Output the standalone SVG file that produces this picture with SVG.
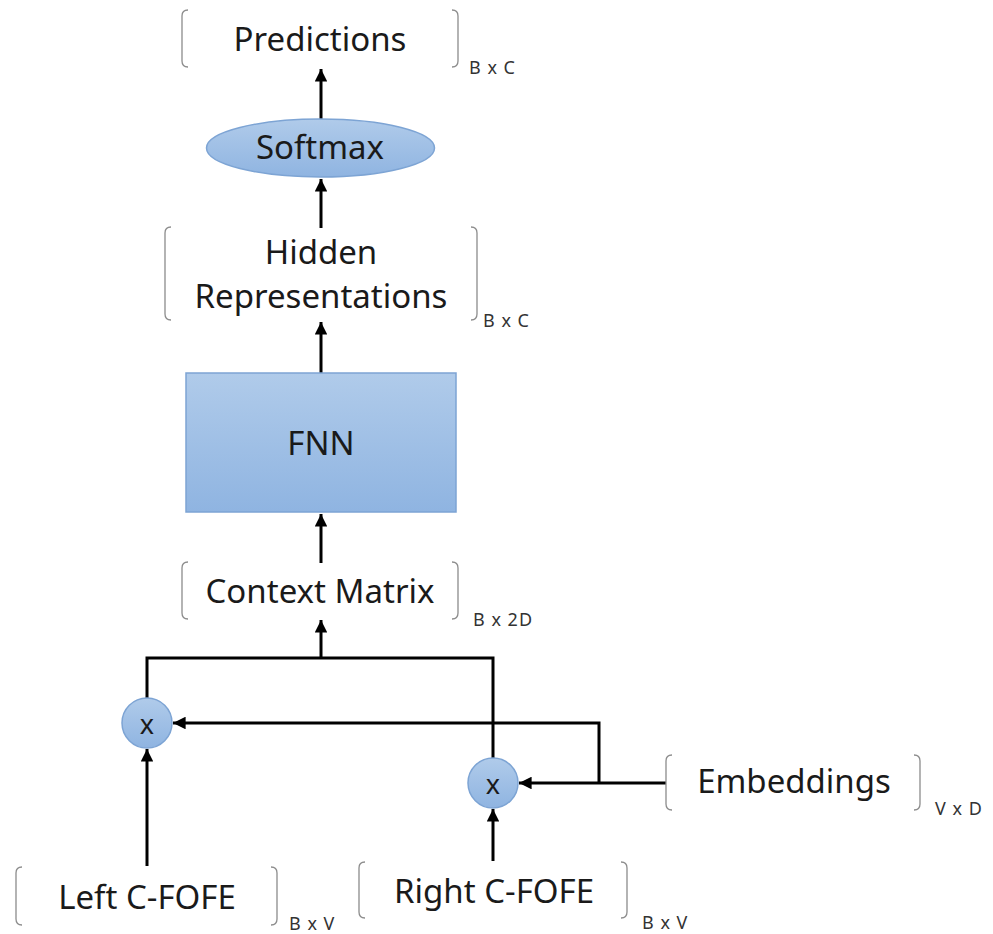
<svg xmlns="http://www.w3.org/2000/svg" width="993" height="934" viewBox="0 0 993 934">
  <style>
    .bg { fill: #ffffff; }
    .brk { fill: none; stroke: #8c8c8c; stroke-width: 1.3; }
    .lbl { font-family: "Noto Sans", "Open Sans", sans-serif; font-size: 33px; fill: #1a1a1a; text-anchor: middle; }
    .dim { font-family: "Noto Sans", "Open Sans", sans-serif; font-size: 18px; letter-spacing: 1px; fill: #333333; }
    .op { font-family: "Noto Sans", "Open Sans", sans-serif; font-size: 27px; fill: #1a1a1a; text-anchor: middle; }
    .blue { fill: url(#blueFill); stroke: #7da4d4; stroke-width: 1.5; }
    .wire { fill: none; stroke: #000000; stroke-width: 3; }
    .arrow { fill: none; stroke: #000000; stroke-width: 3; marker-end: url(#head); }
  </style>
  <defs>
    <linearGradient id="blueFill" x1="0" y1="0" x2="0" y2="1">
      <stop offset="0" stop-color="#b0cbea"/>
      <stop offset="1" stop-color="#8fb4e1"/>
    </linearGradient>
    <marker id="head" viewBox="0 0 10 10" refX="10" refY="5" markerWidth="4.2" markerHeight="4.2" orient="auto" markerUnits="strokeWidth">
      <path d="M0,0 L10,5 L0,10 z" fill="#000000"/>
    </marker>
  </defs>

  <rect class="bg" x="0" y="0" width="993" height="934"/>

  <!-- connectors -->
  <g id="connectors">
    <line class="arrow" x1="321" y1="120" x2="321" y2="69"/>
    <line class="arrow" x1="321" y1="228" x2="321" y2="179"/>
    <line class="arrow" x1="321" y1="374" x2="321" y2="322"/>
    <line class="arrow" x1="321" y1="563" x2="321" y2="514"/>
    <!-- products merge into context matrix -->
    <polyline class="wire" points="147,698 147,658 493,658 493,758"/>
    <line class="arrow" x1="321" y1="658" x2="321" y2="620"/>
    <!-- embeddings feed both products -->
    <line class="arrow" x1="666" y1="783" x2="519" y2="783"/>
    <polyline class="arrow" points="599,783 599,723 173,723"/>
    <!-- C-FOFE inputs -->
    <line class="arrow" x1="147" y1="866" x2="147" y2="749"/>
    <line class="arrow" x1="493" y1="861" x2="493" y2="809"/>
  </g>

  <g id="predictions">
    <path class="brk" d="M188,10 Q182,10 182,16 V61 Q182,67 188,67"/>
    <path class="brk" d="M452,10 Q458,10 458,16 V61 Q458,67 452,67"/>
    <text class="lbl" x="320" y="51">Predictions</text>
    <text class="dim" x="469" y="74">B x C</text>
  </g>

  <g id="softmax">
    <ellipse class="blue" cx="320.5" cy="148" rx="114" ry="29"/>
    <text class="lbl" x="320" y="159">Softmax</text>
  </g>

  <g id="hidden">
    <path class="brk" d="M171,227 Q165,227 165,233 V314 Q165,320 171,320"/>
    <path class="brk" d="M471,227 Q477,227 477,233 V314 Q477,320 471,320"/>
    <text class="lbl" x="321" y="264">Hidden</text>
    <text class="lbl" x="321" y="308">Representations</text>
    <text class="dim" x="483" y="327">B x C</text>
  </g>

  <g id="fnn">
    <rect class="blue" x="186" y="373" width="270" height="139"/>
    <text class="lbl" x="321" y="455">FNN</text>
  </g>

  <g id="context">
    <path class="brk" d="M188,562 Q182,562 182,568 V613 Q182,619 188,619"/>
    <path class="brk" d="M452,562 Q458,562 458,568 V613 Q458,619 452,619"/>
    <text class="lbl" x="320" y="603">Context Matrix</text>
    <text class="dim" x="473" y="626">B x 2D</text>
  </g>

  <g id="mulLeft">
    <circle class="blue" cx="147" cy="723" r="25"/>
    <text class="op" x="147" y="734">x</text>
  </g>

  <g id="mulRight">
    <circle class="blue" cx="493" cy="783" r="25"/>
    <text class="op" x="493" y="794">x</text>
  </g>

  <g id="embeddings">
    <path class="brk" d="M672,755 Q666,755 666,761 V804 Q666,810 672,810"/>
    <path class="brk" d="M914,755 Q920,755 920,761 V804 Q920,810 914,810"/>
    <text class="lbl" x="794" y="793">Embeddings</text>
    <text class="dim" x="935" y="815">V x D</text>
  </g>

  <g id="leftFofe">
    <path class="brk" d="M22,867 Q16,867 16,873 V919 Q16,925 22,925"/>
    <path class="brk" d="M271,867 Q277,867 277,873 V919 Q277,925 271,925"/>
    <text class="lbl" x="147" y="909">Left C-FOFE</text>
    <text class="dim" x="289" y="930">B x V</text>
  </g>

  <g id="rightFofe">
    <path class="brk" d="M365,862 Q359,862 359,868 V912 Q359,918 365,918"/>
    <path class="brk" d="M621,862 Q627,862 627,868 V912 Q627,918 621,918"/>
    <text class="lbl" x="494" y="903">Right C-FOFE</text>
    <text class="dim" x="642" y="929">B x V</text>
  </g>
</svg>
